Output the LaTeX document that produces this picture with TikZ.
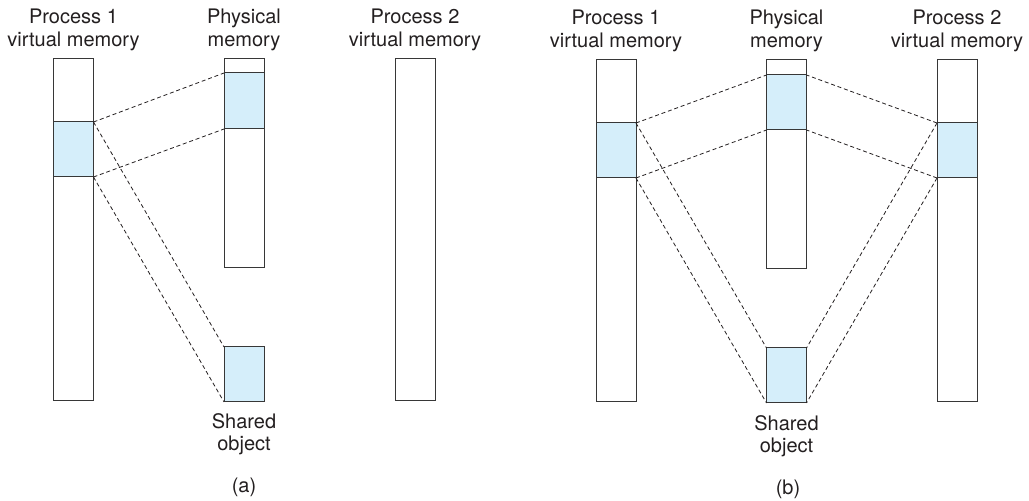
\documentclass[tikz,border=0pt]{standalone}
\usepackage{fontspec}
\setmainfont{TeX Gyre Heros}
\usepackage{tikz}
\usetikzlibrary{positioning}
\definecolor{segblue}{RGB}{213,238,250}
\definecolor{edgegray}{RGB}{55,55,55}
\definecolor{textgray}{RGB}{35,31,32}

\begin{document}
\begin{tikzpicture}[
  x=1pt, y=1pt,
  bar/.style={rectangle, draw=edgegray, line width=1pt, minimum width=40pt, inner sep=0pt, outer sep=0pt},
  seg/.style={bar, fill=segblue},
  link/.style={draw=textgray, line width=0.8pt, dash pattern=on 4pt off 2.8pt},
  title/.style={align=center, inner sep=0pt, text=textgray},
  font=\fontsize{20}{22.5}\selectfont
]
\useasboundingbox (0,0) rectangle (1029,501);

% (a) only process 1 maps the object
\node[bar, minimum height=342pt] (avm1) at (73.5,271) {};
\node[seg, minimum height=55pt] (avm1s) at (73.5,351.5) {};
\node[bar, minimum height=209pt] (apm) at (244,337.5) {};
\node[seg, minimum height=56pt] (apms) at (244,400) {};
\node[seg, minimum height=55pt] (ashr) at (244,126.5) {};
\node[bar, minimum height=342pt] (avm2) at (415,271) {};

\node[title, above=8pt of avm1] (avm1t) {Process 1\\virtual memory};
\node[title, above=8pt of apm] (apmt) {Physical\\memory};
\node[title, above=8pt of avm2] (avm2t) {Process 2\\virtual memory};
\node[title, below=11pt of ashr] (ashrt) {Shared\\object};
\node[title] (acap) at (244,14) {(a)};

\draw[link] (avm1s.north east) -- (apms.north west);
\draw[link] (avm1s.south east) -- (apms.south west);
\draw[link] (avm1s.north east) -- (ashr.north west);
\draw[link] (avm1s.south east) -- (ashr.south west);

% (b) both processes map the object
\node[bar, minimum height=342pt] (bvm1) at (616,270) {};
\node[seg, minimum height=55pt] (bvm1s) at (616,350.5) {};
\node[bar, minimum height=209pt] (bpm) at (786.5,336.5) {};
\node[seg, minimum height=55pt] (bpms) at (786.5,398.5) {};
\node[seg, minimum height=55pt] (bshr) at (786.5,125.5) {};
\node[bar, minimum height=342pt] (bvm2) at (957,270) {};
\node[seg, minimum height=55pt] (bvm2s) at (957,350.5) {};

\node[title, above=8pt of bvm1] (bvm1t) {Process 1\\virtual memory};
\node[title, above=8pt of bpm] (bpmt) {Physical\\memory};
\node[title, above=8pt of bvm2] (bvm2t) {Process 2\\virtual memory};
\node[title, below=12pt of bshr] (bshrt) {Shared\\object};
\node[title] (bcap) at (788,12) {(b)};

\draw[link] (bvm1s.north east) -- (bpms.north west);
\draw[link] (bvm1s.south east) -- (bpms.south west);
\draw[link] (bvm1s.north east) -- (bshr.north west);
\draw[link] (bvm1s.south east) -- (bshr.south west);
\draw[link] (bvm2s.north west) -- (bpms.north east);
\draw[link] (bvm2s.south west) -- (bpms.south east);
\draw[link] (bvm2s.north west) -- (bshr.north east);
\draw[link] (bvm2s.south west) -- (bshr.south east);
\end{tikzpicture}
\end{document}
